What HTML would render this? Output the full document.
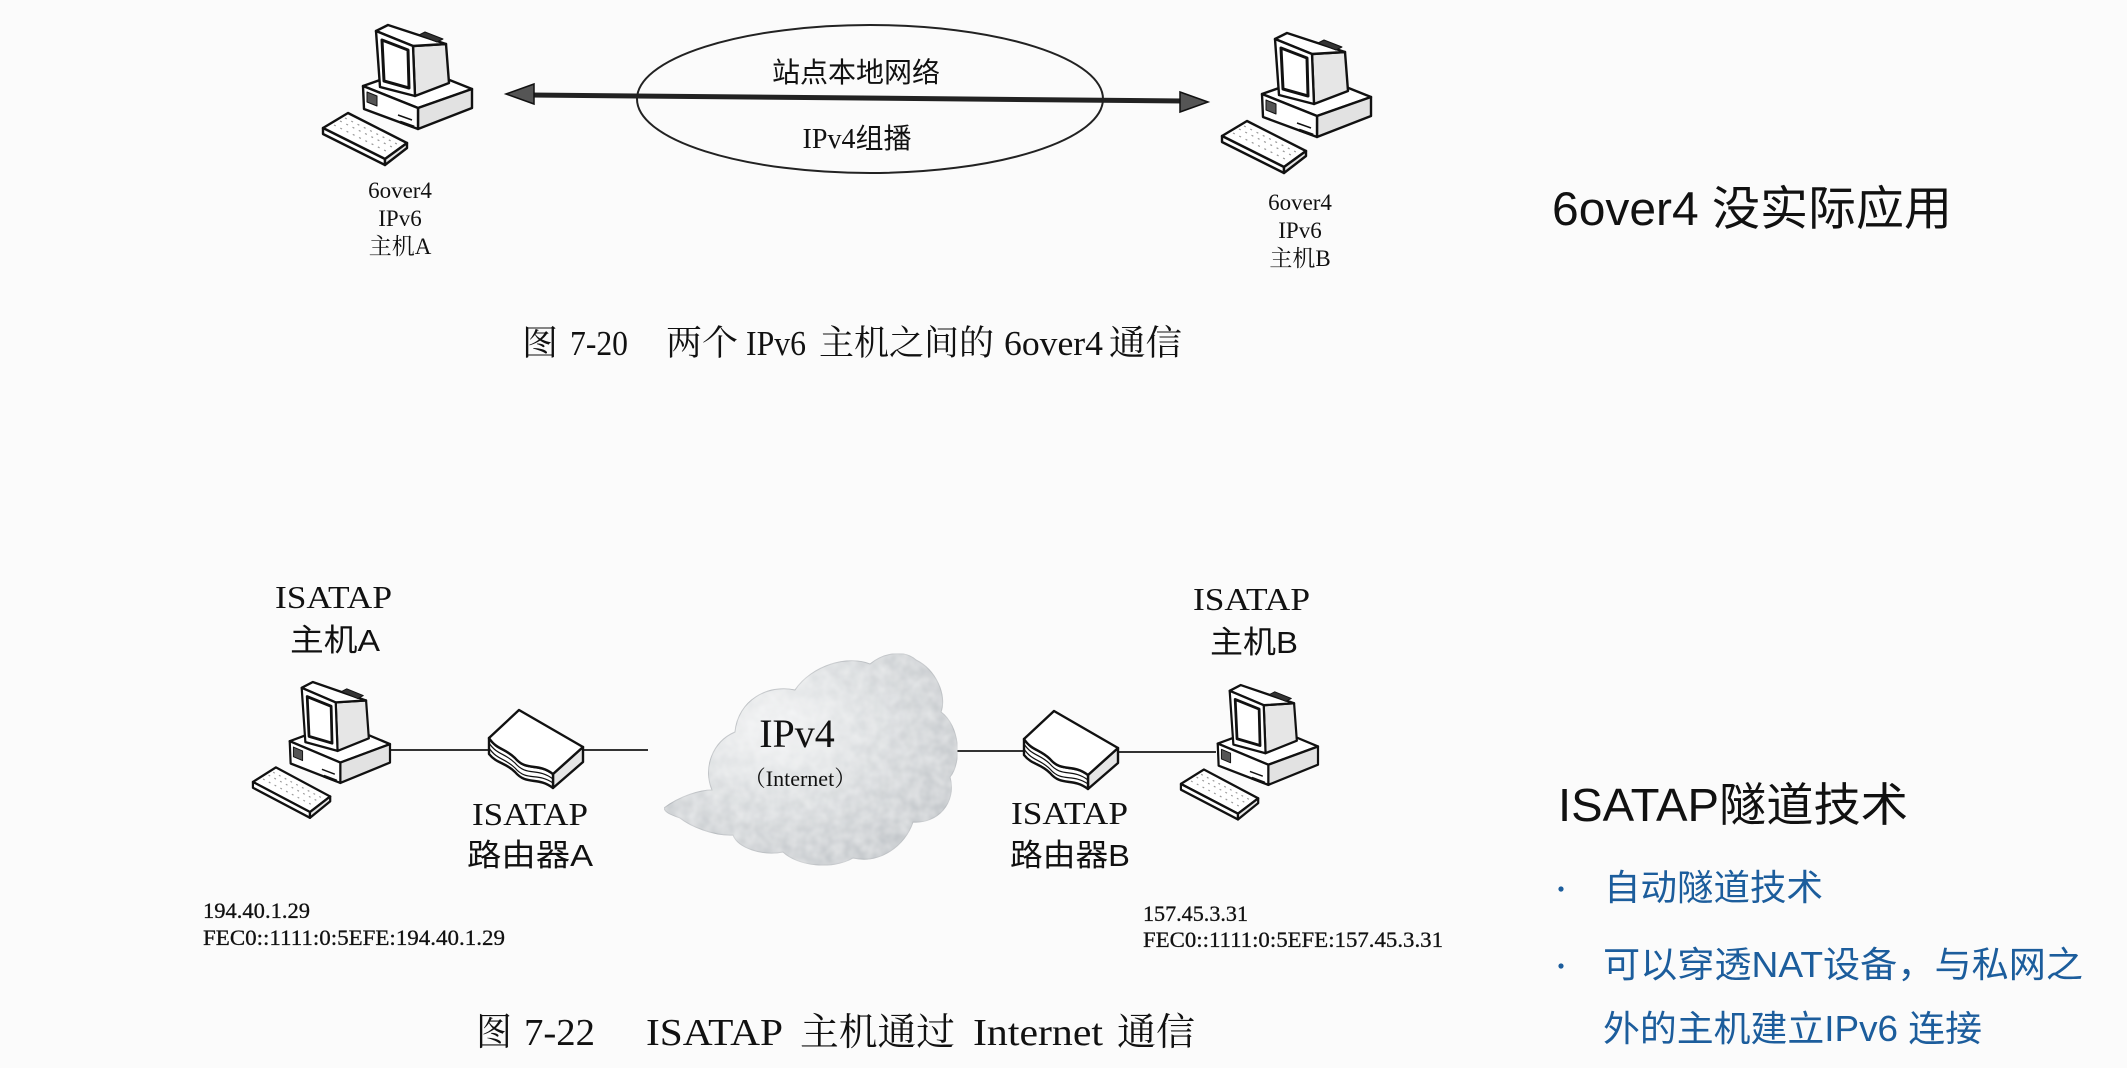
<!DOCTYPE html>
<html>
<head>
<meta charset="utf-8">
<style>
html,body{margin:0;padding:0;background:#fbfbfb;}
svg{display:block;}
</style>
</head>
<body>
<svg width="2127" height="1068" viewBox="0 0 2127 1068" xmlns="http://www.w3.org/2000/svg">
<defs>
  <radialGradient id="cg" cx="0.38" cy="0.35" r="0.75">
    <stop offset="0" stop-color="#f2f3f4"/>
    <stop offset="0.45" stop-color="#d9dcde"/>
    <stop offset="1" stop-color="#bfc3c7"/>
  </radialGradient>
  <filter id="grain" x="0" y="0" width="100%" height="100%">
    <feTurbulence type="fractalNoise" baseFrequency="0.09" numOctaves="2" seed="3" result="n"/>
    <feColorMatrix in="n" type="matrix" values="0 0 0 0 1  0 0 0 0 1  0 0 0 0 1  0 0 0 0.55 -0.1" result="w"/>
    <feComposite in="w" in2="SourceGraphic" operator="in" result="t"/>
    <feMerge><feMergeNode in="SourceGraphic"/><feMergeNode in="t"/></feMerge>
  </filter>
  <g id="pc" stroke="#111" stroke-width="2.4" stroke-linejoin="round" fill="#fff">
    <polygon points="41,60 95,41 150,63 96,82"/>
    <polygon points="96,82 150,63 150,82 96,103" fill="#e2e2e2"/>
    <polygon points="41,60 96,82 96,103 42,83"/>
    <polygon points="45,66 55,70 55,80 45,76" fill="#555" stroke-width="1"/>
    <line x1="76" y1="89" x2="90" y2="94" stroke-width="1.5"/>
    <line x1="78" y1="96" x2="92" y2="101" stroke-width="3"/>
    <polygon points="91,20 124,18 127,57 93,70" fill="#e6e6e6"/>
    <polygon points="54,5 66,-1 124,18 91,20"/>
    <polygon points="97,9 103,6 121,13 115,16" fill="#333" stroke-width="1"/>
    <polygon points="54,5 91,20 93,70 58,61"/>
    <polygon points="60,14 86,24 87,62 62,55" stroke-width="3"/>
    <polygon points="1,102 26,87 85,117 63,133"/>
    <polygon points="1,102 63,133 63,139 1,108"/>
    <polygon points="63,133 85,117 85,122 63,139" fill="#e6e6e6"/>
    <line x1="12" y1="99" x2="66" y2="126" stroke="#999" stroke-width="1.2" stroke-dasharray="2 5"/>
    <line x1="18" y1="95" x2="72" y2="122" stroke="#999" stroke-width="1.2" stroke-dasharray="2 5"/>
    <line x1="23" y1="92" x2="77" y2="119" stroke="#999" stroke-width="1.2" stroke-dasharray="2 5"/>
  </g>
  <g id="rt" stroke="#111" stroke-width="2.4" stroke-linejoin="round" fill="#fff">
    <path d="M66,64 L96,37 L96,52 L66,78 Z" fill="#e6e6e6"/>
    <path d="M2,28 C10,40 18,38 28,48 C40,62 50,52 66,64 L66,78 C50,66 40,76 28,62 C18,52 10,54 2,44 Z"/>
    <path d="M2,28 L32,0 L96,37 L66,64 C50,52 40,62 28,48 C18,38 10,40 2,28 Z"/>
    <path d="M2,33 C10,45 18,43 28,53 C40,67 50,57 66,69" fill="none" stroke-width="1.2"/>
    <path d="M2,38 C10,50 18,48 28,58 C40,72 50,62 66,73" fill="none" stroke-width="1.2"/>
  </g>
</defs>

<rect x="0" y="0" width="2127" height="1068" fill="#fbfbfb"/>

<!-- ===== Top diagram: 6over4 ===== -->
<use href="#pc" transform="translate(322,26)"/>
<use href="#pc" transform="translate(1221,34)"/>

<ellipse cx="870" cy="99" rx="233" ry="74" fill="none" stroke="#222" stroke-width="2"/>
<line x1="530" y1="95" x2="1183" y2="101" stroke="#222" stroke-width="5"/>
<polygon points="506,94 534,84 534,104" fill="#555" stroke="#111" stroke-width="1.5"/>
<polygon points="1208,102 1180,92 1180,112" fill="#555" stroke="#111" stroke-width="1.5"/>

<text x="856" y="82" font-family="Liberation Sans, Noto Sans CJK SC, sans-serif" font-size="28" fill="#111" text-anchor="middle">站点本地网络</text>
<text x="857" y="148" font-family="Liberation Serif, Noto Sans CJK SC, serif" font-size="28" fill="#111" text-anchor="middle">IPv4组播</text>

<g font-family="Liberation Serif, Noto Serif CJK SC, serif" font-size="23" fill="#111" text-anchor="middle">
  <text x="400" y="198">6over4</text>
  <text x="400" y="226">IPv6</text>
  <text x="400" y="254">主机A</text>
  <text x="1300" y="210">6over4</text>
  <text x="1300" y="238">IPv6</text>
  <text x="1300" y="266">主机B</text>
</g>

<g font-family="Liberation Serif, Noto Serif CJK SC, serif" font-size="35" fill="#111">
  <text x="522" y="355" textLength="36" lengthAdjust="spacingAndGlyphs">图</text>
  <text x="570" y="355" textLength="58" lengthAdjust="spacingAndGlyphs">7-20</text>
  <text x="666" y="355" textLength="72" lengthAdjust="spacingAndGlyphs">两个</text>
  <text x="746" y="355" textLength="60" lengthAdjust="spacingAndGlyphs">IPv6</text>
  <text x="819" y="355" textLength="175" lengthAdjust="spacingAndGlyphs">主机之间的</text>
  <text x="1004" y="355" textLength="99" lengthAdjust="spacingAndGlyphs">6over4</text>
  <text x="1109" y="355" textLength="73" lengthAdjust="spacingAndGlyphs">通信</text>
</g>

<!-- ===== Bottom diagram: ISATAP ===== -->
<line x1="388" y1="750" x2="490" y2="750" stroke="#333" stroke-width="2"/>
<line x1="581" y1="750" x2="648" y2="750" stroke="#333" stroke-width="2"/>
<line x1="950" y1="751" x2="1024" y2="751" stroke="#333" stroke-width="2"/>
<line x1="1116" y1="752" x2="1216" y2="752" stroke="#333" stroke-width="2"/>

<path d="M664,808 C680,796 700,790 712,790 C703,768 712,742 735,732 C738,700 768,684 795,690 C812,665 848,655 870,664 C885,652 905,650 916,660 C936,670 947,695 941,712 C960,726 962,762 950,777 C957,803 937,824 913,822 C905,846 880,864 853,858 C832,870 798,866 783,852 C762,856 738,848 733,835 C713,836 690,826 680,818 C672,815 665,813 664,808 Z" fill="url(#cg)" stroke="#b5b9bd" stroke-width="1" filter="url(#grain)"/>

<use href="#pc" transform="translate(252,683) scale(0.92,0.97)"/>
<use href="#pc" transform="translate(1180,686) scale(0.92,0.96)"/>
<use href="#rt" transform="translate(487,710)"/>
<use href="#rt" transform="translate(1022,711)"/>

<text x="797" y="747" font-family="Liberation Serif, serif" font-size="40" fill="#111" text-anchor="middle">IPv4</text>
<text x="800" y="786" font-family="Liberation Serif, Noto Serif CJK SC, serif" font-size="22" fill="#111" text-anchor="middle">（Internet）</text>

<g font-family="Liberation Serif, serif" font-size="32" fill="#111">
  <text x="275" y="608" textLength="117" lengthAdjust="spacingAndGlyphs">ISATAP</text>
  <text x="1193" y="610" textLength="117" lengthAdjust="spacingAndGlyphs">ISATAP</text>
  <text x="472" y="825" textLength="116" lengthAdjust="spacingAndGlyphs">ISATAP</text>
  <text x="1011" y="824" textLength="117" lengthAdjust="spacingAndGlyphs">ISATAP</text>
</g>
<g font-family="Liberation Sans, Noto Sans CJK SC, sans-serif" font-size="31" fill="#111">
  <text x="290" y="651" textLength="90" lengthAdjust="spacingAndGlyphs">主机A</text>
  <text x="1210" y="653" textLength="88" lengthAdjust="spacingAndGlyphs">主机B</text>
  <text x="467" y="866" textLength="126" lengthAdjust="spacingAndGlyphs">路由器A</text>
  <text x="1010" y="866" textLength="120" lengthAdjust="spacingAndGlyphs">路由器B</text>
</g>

<g font-family="Liberation Serif, serif" font-size="22.5" fill="#111" stroke="#111" stroke-width="0.3">
  <text x="203" y="918" textLength="107" lengthAdjust="spacingAndGlyphs">194.40.1.29</text>
  <text x="203" y="945" textLength="302" lengthAdjust="spacingAndGlyphs">FEC0::1111:0:5EFE:194.40.1.29</text>
  <text x="1143" y="921" textLength="105" lengthAdjust="spacingAndGlyphs">157.45.3.31</text>
  <text x="1143" y="947" textLength="300" lengthAdjust="spacingAndGlyphs">FEC0::1111:0:5EFE:157.45.3.31</text>
</g>

<g font-family="Liberation Serif, Noto Serif CJK SC, serif" font-size="38" fill="#111">
  <text x="476" y="1045" textLength="36" lengthAdjust="spacingAndGlyphs">图</text>
  <text x="524" y="1045" textLength="71" lengthAdjust="spacingAndGlyphs">7-22</text>
  <text x="646" y="1045" textLength="137" lengthAdjust="spacingAndGlyphs">ISATAP</text>
  <text x="800" y="1045" textLength="155" lengthAdjust="spacingAndGlyphs">主机通过</text>
  <text x="973" y="1045" textLength="130" lengthAdjust="spacingAndGlyphs">Internet</text>
  <text x="1117" y="1045" textLength="78" lengthAdjust="spacingAndGlyphs">通信</text>
</g>

<!-- ===== Right panel ===== -->
<g font-family="Liberation Sans, Noto Sans CJK SC, sans-serif" fill="#111">
  <text x="1552" y="225" font-size="47" textLength="400" lengthAdjust="spacingAndGlyphs">6over4 没实际应用</text>
  <text x="1558" y="821" font-size="46" textLength="350" lengthAdjust="spacingAndGlyphs">ISATAP隧道技术</text>
</g>
<g font-family="Liberation Sans, Noto Sans CJK SC, sans-serif" fill="#1c5d9c" font-size="36">
  <circle cx="1561" cy="889" r="2.6"/>
  <circle cx="1561" cy="966" r="2.6"/>
  <text x="1604" y="900" textLength="219" lengthAdjust="spacingAndGlyphs">自动隧道技术</text>
  <text x="1603" y="977" textLength="480" lengthAdjust="spacingAndGlyphs">可以穿透NAT设备，与私网之</text>
  <text x="1603" y="1041" textLength="379" lengthAdjust="spacingAndGlyphs">外的主机建立IPv6 连接</text>
</g>
</svg>
</body>
</html>
